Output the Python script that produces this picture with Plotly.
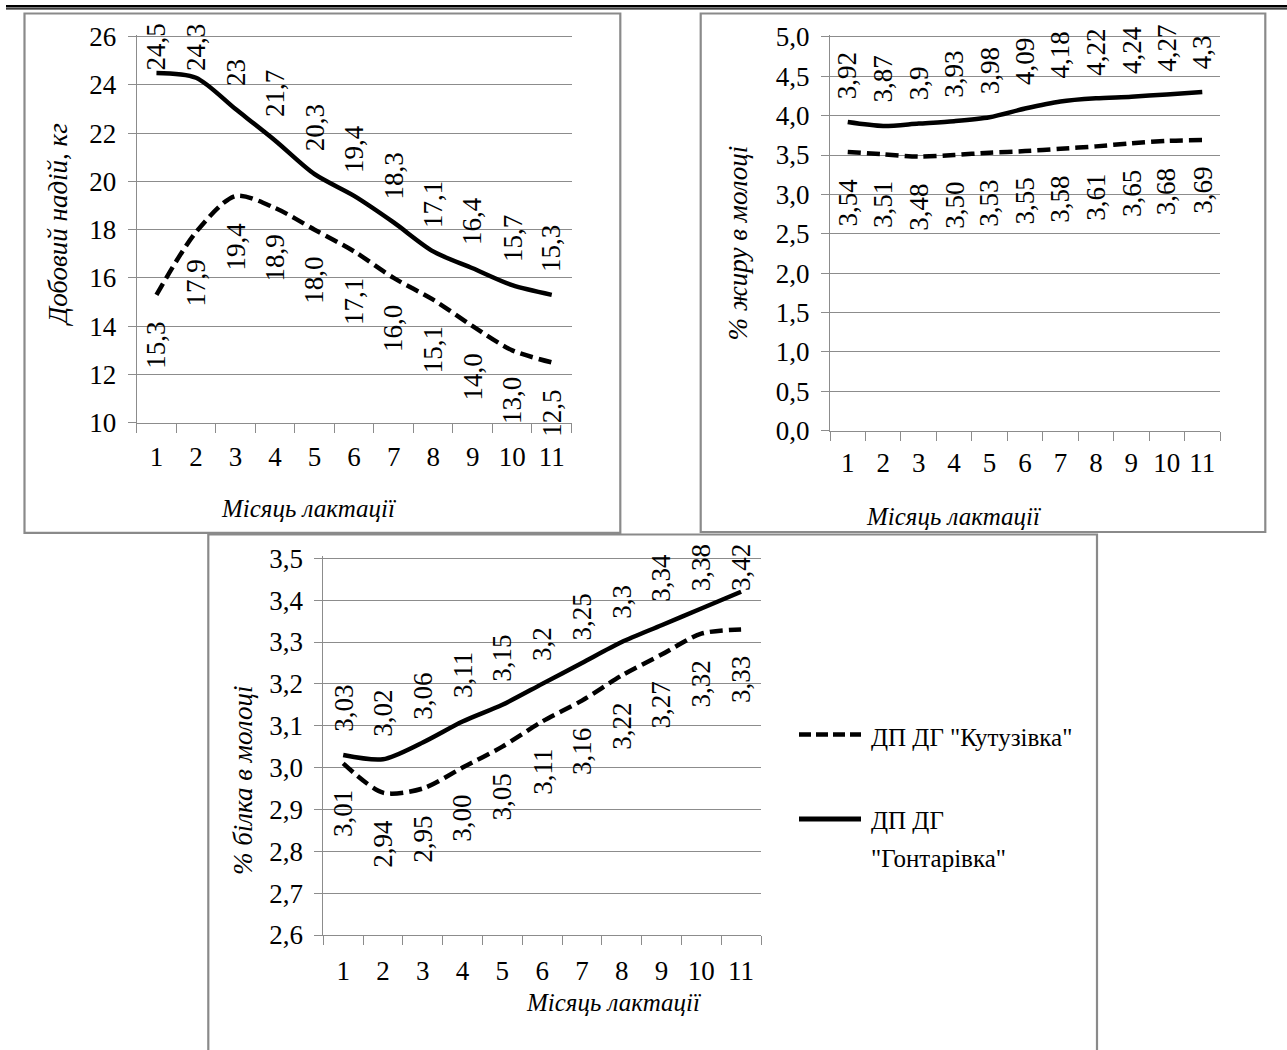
import plotly.graph_objects as go

W, H = 1287, 1050

# ---- data ----------------------------------------------------------------
months = [str(m) for m in range(1, 12)]

series_names = ['ДП ДГ "Кутузівка"', 'ДП ДГ "Гонтарівка"']

yield_kutuz = [15.3, 17.9, 19.4, 18.9, 18.0, 17.1, 16.0, 15.1, 14.0, 13.0, 12.5]
yield_hontar = [24.5, 24.3, 23.0, 21.7, 20.3, 19.4, 18.3, 17.1, 16.4, 15.7, 15.3]

fat_kutuz = [3.54, 3.51, 3.48, 3.50, 3.53, 3.55, 3.58, 3.61, 3.65, 3.68, 3.69]
fat_hontar = [3.92, 3.87, 3.90, 3.93, 3.98, 4.09, 4.18, 4.22, 4.24, 4.27, 4.30]

protein_kutuz = [3.01, 2.94, 2.95, 3.00, 3.05, 3.11, 3.16, 3.22, 3.27, 3.32, 3.33]
protein_hontar = [3.03, 3.02, 3.06, 3.11, 3.15, 3.20, 3.25, 3.30, 3.34, 3.38, 3.42]

x_title = "Місяць лактації"
y_titles = ["Добовий надій, кг", "% жиру в молоці", "% білка в молоці"]

# ---- styling -------------------------------------------------------------
FONT = "Liberation Serif"
FS = 27
GREY = "#8c8c8c"
FRAME = "#8a8a8a"


def xp(px):
    return px / W


def yp(py):
    return 1 - py / H


def tfont(size=FS):
    return dict(family=FONT, size=size, color="black")


# pixel boxes of the three chart panels
panels = [
    dict(frame=(24.5, 13.5, 620.3, 532.8), plot=(136.7, 36.7, 571.5, 422.7),
         yr=(10, 26), dtick=2, fmt="d", kutuz=yield_kutuz, hontar=yield_hontar,
         kdec=1, xstand=10, ytitle=y_titles[0], ytitle_xy=(58, 225), xtitle_xy=(308, 508)),
    dict(frame=(700.7, 13.5, 1265.3, 532.0), plot=(830.0, 36.9, 1220.0, 430.7),
         yr=(0, 5), dtick=0.5, fmt=".1f", kutuz=fat_kutuz, hontar=fat_hontar,
         kdec=2, xstand=8, ytitle=y_titles[1], ytitle_xy=(737.5, 243), xtitle_xy=(953, 516)),
    dict(frame=(208.3, 534.5, 1097.0, 1070.0), plot=(323.3, 558.3, 761.0, 935.0),
         yr=(2.6, 3.5), dtick=0.1, fmt=".1f", kutuz=protein_kutuz, hontar=protein_hontar,
         kdec=2, xstand=12, ytitle=y_titles[2], ytitle_xy=(243, 781), xtitle_xy=(613, 1002)),
]

fig = go.Figure()
annotations = []
shapes = []
layout_axes = {}


def text_em(t):
    return sum(0.25 if c == "," else 0.5 for c in t)


for i, p in enumerate(panels, start=1):
    sfx = "" if i == 1 else str(i)
    xa, ya = "x" + sfx, "y" + sfx
    x0, top, x1, bottom = p["plot"]
    ymin, ymax = p["yr"]
    upp = (ymax - ymin) / (bottom - top)
    pad = 2.0

    layout_axes["xaxis" + sfx] = dict(
        domain=[xp(x0), xp(x1)], anchor=ya, type="category",
        range=[-0.5, len(months) - 0.5], tickson="boundaries", tickangle=0,
        ticks="outside", ticklen=9, tickcolor=GREY, tickwidth=1,
        showline=True, linecolor=GREY, linewidth=1, showgrid=False,
        tickfont=tfont(), ticklabelstandoff=p["xstand"], fixedrange=True,
        automargin=False,
    )
    layout_axes["yaxis" + sfx] = dict(
        domain=[yp(bottom), yp(top - pad)], anchor=xa,
        range=[ymin, ymax + pad * upp], tickmode="linear", tick0=ymin,
        dtick=p["dtick"], tickformat=p["fmt"],
        ticks="outside", ticklen=8, tickcolor=GREY, tickwidth=1,
        showline=True, linecolor=GREY, linewidth=1,
        showgrid=True, gridcolor=GREY, gridwidth=1, zeroline=False,
        tickfont=tfont(), ticklabelstandoff=6, fixedrange=True, automargin=False,
    )

    fig.add_trace(go.Scatter(
        x=months, y=p["kutuz"], xaxis=xa, yaxis=ya, mode="lines",
        name=series_names[0], showlegend=False,
        line=dict(color="black", width=4.5, dash="13px,6px", shape="spline", smoothing=0.8),
    ))
    fig.add_trace(go.Scatter(
        x=months, y=p["hontar"], xaxis=xa, yaxis=ya, mode="lines",
        name=series_names[1], showlegend=False,
        line=dict(color="black", width=4.5, shape="spline", smoothing=0.8),
    ))

    def py_of(v):
        return top + (ymax - v) / upp

    frame_top = p["frame"][1]

    # rotated value labels: below the dashed line (x given as category index)
    for k, v in enumerate(p["kutuz"]):
        t = f"{v:.{p['kdec']}f}".replace(".", ",")
        annotations.append(dict(
            x=k, y=v, xref=xa, yref=ya, text=t, showarrow=False,
            textangle=-90, xanchor="center", yanchor="top", yshift=-25,
            font=tfont(),
        ))
    # rotated value labels: above the solid line, kept inside the frame
    for k, v in enumerate(p["hontar"]):
        t = f"{v:g}".replace(".", ",")
        ink_top = py_of(v) - 23 - text_em(t) * FS
        if ink_top < frame_top + 10:
            annotations.append(dict(
                x=k, y=yp(frame_top + 8), xref=xa, yref="paper", text=t,
                showarrow=False, textangle=-90, xanchor="center", yanchor="top",
                font=tfont(),
            ))
        else:
            annotations.append(dict(
                x=k, y=v, xref=xa, yref=ya, text=t, showarrow=False,
                textangle=-90, xanchor="center", yanchor="bottom", yshift=21,
                font=tfont(),
            ))

    # axis titles (italic)
    tx, ty = p["ytitle_xy"]
    annotations.append(dict(
        x=xp(tx), y=yp(ty), xref="paper", yref="paper", text="<i>" + p["ytitle"] + "</i>",
        showarrow=False, textangle=-90, xanchor="center", yanchor="middle",
        font=tfont(27),
    ))
    tx, ty = p["xtitle_xy"]
    annotations.append(dict(
        x=xp(tx), y=yp(ty), xref="paper", yref="paper", text="<i>" + x_title + "</i>",
        showarrow=False, xanchor="center", yanchor="middle",
        font=tfont(25),
    ))

    # chart frame
    fx0, fy0, fx1, fy1 = p["frame"]
    shapes.append(dict(
        type="rect", xref="paper", yref="paper",
        x0=xp(fx0), x1=xp(fx1), y0=yp(fy1), y1=yp(fy0),
        line=dict(color=FRAME, width=2.2), fillcolor="rgba(0,0,0,0)", layer="above",
    ))

# page rule at the top (thick + thin)
shapes.append(dict(type="line", xref="paper", yref="paper", x0=xp(6), x1=1.0,
                   y0=yp(6.2), y1=yp(6.2), line=dict(color="black", width=2.6)))
shapes.append(dict(type="line", xref="paper", yref="paper", x0=xp(6), x1=1.0,
                   y0=yp(8.9), y1=yp(8.9), line=dict(color="black", width=1.2)))

# legend of the protein chart
shapes.append(dict(type="line", xref="paper", yref="paper", x0=xp(799), x1=xp(861),
                   y0=yp(734.5), y1=yp(734.5),
                   line=dict(color="black", width=4.5, dash="12px,5px")))
shapes.append(dict(type="line", xref="paper", yref="paper", x0=xp(799), x1=xp(861),
                   y0=yp(819), y1=yp(819), line=dict(color="black", width=5)))
annotations.append(dict(x=xp(869), y=yp(737), xref="paper", yref="paper",
                        text=series_names[0], showarrow=False, xanchor="left",
                        yanchor="middle", font=tfont(25)))
name2_first, name2_second = series_names[1].split(" \"")
annotations.append(dict(x=xp(869), y=yp(820), xref="paper", yref="paper",
                        text=name2_first, showarrow=False, xanchor="left",
                        yanchor="middle", font=tfont(25)))
annotations.append(dict(x=xp(869), y=yp(858), xref="paper", yref="paper",
                        text='"' + name2_second, showarrow=False, xanchor="left",
                        yanchor="middle", font=tfont(25)))

fig.update_layout(
    width=W, height=H, margin=dict(l=0, r=0, t=0, b=0, pad=0, autoexpand=False),
    paper_bgcolor="white", plot_bgcolor="white",
    separators=", ", showlegend=False,
    annotations=annotations, shapes=shapes, **layout_axes,
)

fig.write_html("out.html")
